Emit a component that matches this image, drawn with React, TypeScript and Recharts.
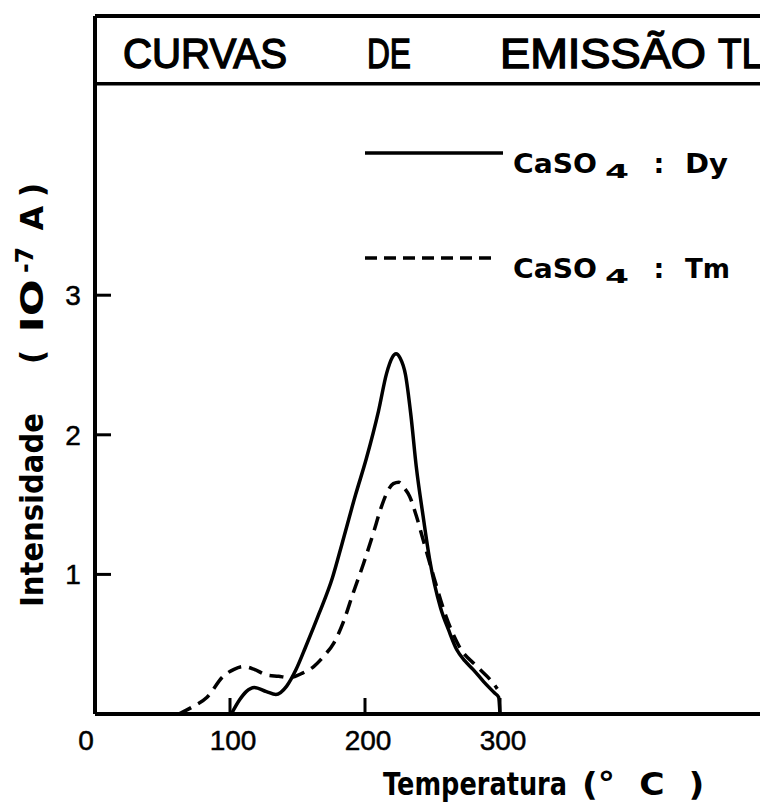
import React from 'react';
import { LineChart, Line, XAxis, YAxis, ReferenceLine, Customized } from 'recharts';

// Temperature (°C) and intensity (10^-7 A)
const dyTemp = [101, 107, 112, 118, 127, 134, 142, 149, 156, 166, 176, 183, 193, 201, 210, 216, 220, 223, 226, 230, 234, 238, 243, 248, 256, 262, 268, 274, 280, 288, 296, 299, 300];
const dyIntensity = [0.0, 0.1, 0.16, 0.19, 0.16, 0.14, 0.2, 0.32, 0.48, 0.72, 0.98, 1.22, 1.57, 1.83, 2.17, 2.44, 2.55, 2.58, 2.55, 2.43, 2.14, 1.77, 1.42, 1.1, 0.76, 0.6, 0.46, 0.38, 0.32, 0.23, 0.15, 0.12, 0.0];

const tmTemp = [62, 72, 83, 95, 103, 110, 118, 127, 136, 144, 153, 162, 170, 177, 184, 191, 199, 206, 212, 216, 221, 225, 229, 233, 238, 243, 251, 260, 270, 283, 295, 298];
const tmIntensity = [0.0, 0.05, 0.12, 0.27, 0.32, 0.34, 0.32, 0.28, 0.27, 0.26, 0.29, 0.34, 0.42, 0.51, 0.66, 0.86, 1.08, 1.29, 1.48, 1.58, 1.65, 1.66, 1.62, 1.56, 1.42, 1.25, 0.98, 0.7, 0.48, 0.34, 0.22, 0.18];

const temperatureTicks = [0, 100, 200, 300];
const intensityTicks = [1, 2, 3];
const titleWords = ['CURVAS', 'DE', 'EMISSÃO', 'TL'];
const seriesLabels = ['Dy', 'Tm'];
const frameTop = 5;
const titleSeparator = 4.515;

const dyData = dyTemp.map((t, i) => ({ t, v: dyIntensity[i] }));
const tmData = tmTemp.map((t, i) => ({ t, v: tmIntensity[i] }));

const INK = '#000';
const tickFont = '"Liberation Sans", Arial, sans-serif';
const boldFont = '"DejaVu Sans", "Liberation Sans", sans-serif';

const XTick = (props: any) => {
  const { x, y, payload } = props;
  const v = payload.value;
  return (
    <g>
      {v !== 0 && <line x1={x} y1={y} x2={x} y2={y - 16} stroke={INK} strokeWidth={3} />}
      <text x={v === 0 ? x - 9 : x + 3} y={y + 36} textAnchor="middle" fontFamily={tickFont} fontSize={28} fill={INK}
        stroke={INK} strokeWidth={0.5}>
        {v}
      </text>
    </g>
  );
};

const YTick = (props: any) => {
  const { x, y, payload } = props;
  return (
    <g>
      <line x1={x} y1={y} x2={x + 16} y2={y} stroke={INK} strokeWidth={3} />
      <text x={x - 22} y={y + 10} textAnchor="middle" fontFamily={tickFont} fontSize={28} fill={INK}
        stroke={INK} strokeWidth={0.5}>
        {payload.value}
      </text>
    </g>
  );
};

const Overlay = () => {
  const titlePos = [
    { x: 115, w: 164 },
    { x: 359, w: 44 },
    { x: 492, w: 206 },
    { x: 710, w: 45 },
  ];
  return (
    <g>
      {/* title */}
      {titleWords.map((w, i) => (
        <text key={w} x={titlePos[i].x} y={60} fontFamily={tickFont} fontSize={42} fill={INK}
          textLength={titlePos[i].w} lengthAdjust="spacingAndGlyphs" stroke={INK} strokeWidth={1.4}>
          {w}
        </text>
      ))}
      {/* legend */}
      <line x1={357} y1={145} x2={495} y2={145} stroke={INK} strokeWidth={3.5} />
      <line x1={357} y1={250} x2={489} y2={250} stroke={INK} strokeWidth={3.5} strokeDasharray="12 7" />
      {seriesLabels.map((s, i) => {
        const by = 165 + i * 105;
        return (
          <g key={s} fontFamily={boldFont} fontWeight="bold" fill={INK}>
            <text x={505} y={by} fontSize={27} textLength={84} lengthAdjust="spacingAndGlyphs">CaSO</text>
            <text x={597} y={by + 5} fontSize={20} textLength={24} lengthAdjust="spacingAndGlyphs">4</text>
            <text x={651} y={by} fontSize={27} textAnchor="middle">:</text>
            <text x={677} y={by} fontSize={27} textLength={s === 'Dy' ? 43 : 45} lengthAdjust="spacingAndGlyphs">{s}</text>
          </g>
        );
      })}
      {/* y axis label */}
      <g fontFamily={boldFont} fontWeight="bold" fill={INK}>
        <text x={35} y={502} transform="rotate(-90 35 502)" textAnchor="middle" fontSize={32}
          textLength={194} lengthAdjust="spacingAndGlyphs">Intensidade</text>
        <text x={35} y={349} transform="rotate(-90 35 349)" textAnchor="middle" fontSize={32}>(</text>
        <text x={35} y={298} transform="rotate(-90 35 298)" textAnchor="middle" fontSize={32}
          textLength={53} lengthAdjust="spacingAndGlyphs">IO</text>
        <text x={25} y={252} transform="rotate(-90 25 252)" textAnchor="middle" fontSize={24}
          textLength={26} lengthAdjust="spacingAndGlyphs">-7</text>
        <text x={35} y={210} transform="rotate(-90 35 210)" textAnchor="middle" fontSize={32}>A</text>
        <text x={35} y={182} transform="rotate(-90 35 182)" textAnchor="middle" fontSize={32}>)</text>
      </g>
      {/* x axis label */}
      <g fontFamily={boldFont} fontWeight="bold" fill={INK}>
        <text transform="translate(375 787) scale(0.8 1)" x={0} y={0} fontSize={32}>Temperatura</text>
        <text transform="translate(574 787) scale(1.08 1)" x={0} y={0} fontSize={32}
          style={{ whiteSpace: 'pre' }}>{'(°  C  )'}</text>
      </g>
    </g>
  );
};

export default function App() {
  return (
    <div style={{ width: 760, height: 798, overflow: 'hidden', background: '#fff' }}>
      <LineChart width={770} height={798} margin={{ top: 8, right: 8, bottom: 0, left: 0 }}>
        <XAxis
          dataKey="t"
          type="number"
          domain={[0, 500]}
          ticks={temperatureTicks}
          allowDataOverflow
          height={92}
          tickSize={0}
          tickMargin={0}
          tickLine={false}
          axisLine={{ stroke: INK, strokeWidth: 4 }}
          tick={<XTick />}
          interval={0}
        />
        <YAxis
          type="number"
          domain={[0, 5]}
          ticks={intensityTicks}
          allowDataOverflow
          width={87}
          tickSize={0}
          tickMargin={0}
          tickLine={false}
          axisLine={{ stroke: INK, strokeWidth: 4 }}
          tick={<YTick />}
          interval={0}
        />
        <ReferenceLine y={frameTop} stroke={INK} strokeWidth={4} />
        <ReferenceLine y={titleSeparator} stroke={INK} strokeWidth={3.5} />
        <Line data={dyData} dataKey="v" type="monotone" stroke={INK} strokeWidth={3.5} dot={false} isAnimationActive={false} />
        <Line data={tmData} dataKey="v" type="monotone" stroke={INK} strokeWidth={3.5} strokeDasharray="14 8" dot={false} isAnimationActive={false} />
        <Customized component={Overlay} />
      </LineChart>
    </div>
  );
}
